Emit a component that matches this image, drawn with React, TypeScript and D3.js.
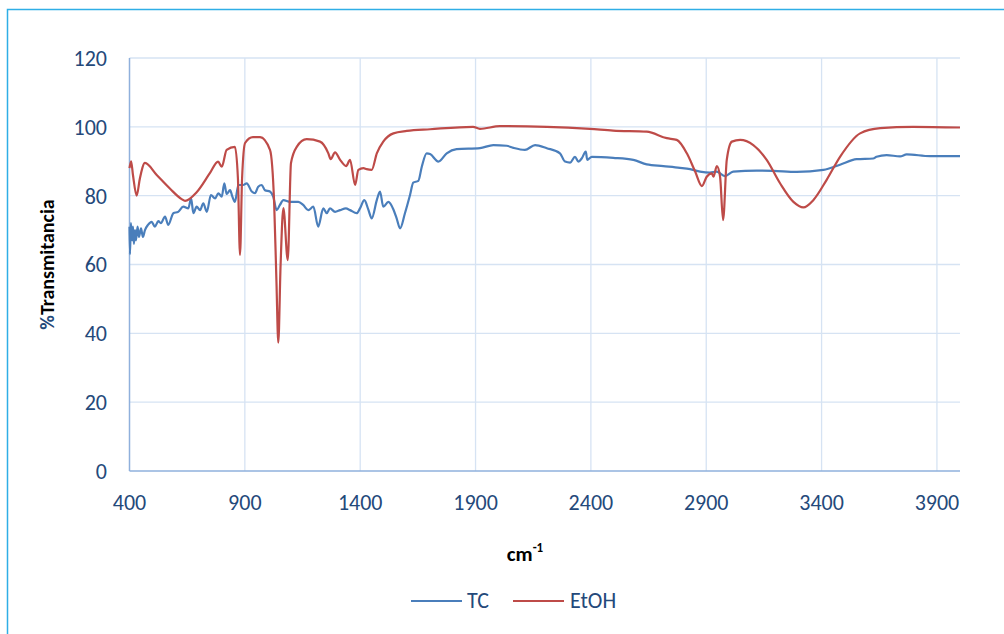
import * as d3 from 'd3';

// wavenumber (cm-1) and %T
const tcWave = [
	400, 402, 406, 411, 415, 419, 424, 428, 435, 441, 450, 458, 467, 480, 496, 510, 525, 536, 554, 568,
	590, 611, 633, 655, 667, 677, 691, 706, 720, 735, 753, 771, 785, 800, 811, 821, 836, 846, 857, 872,
	893, 908, 930, 944, 958, 973, 987, 1009, 1023, 1038, 1052, 1067, 1096, 1132, 1153, 1175, 1197, 1218,
	1240, 1255, 1269, 1291, 1313, 1338, 1356, 1385, 1399, 1418, 1435, 1450, 1472, 1486, 1500, 1522, 1544,
	1558, 1573, 1594, 1616, 1630, 1652, 1667, 1688, 1703, 1739, 1775, 1818, 1919, 1977, 2035, 2064, 2114,
	2158, 2209, 2266, 2288, 2310, 2331, 2346, 2360, 2378, 2384, 2404, 2497, 2584, 2642, 2714, 2786, 2830,
	2873, 2916, 2945, 2981, 3017, 3119, 3191, 3292, 3408, 3480, 3552, 3624, 3638, 3682, 3740, 3769, 3870,
	4000,
];
const tcValue = [
	71, 63, 72, 67, 71, 66, 70, 67, 71, 68, 70.5, 68, 70, 71.5, 72.4, 71, 72.6, 72, 73.9, 71.5,
	74.9, 75.3, 76.8, 76.3, 79.2, 74.9, 76.8, 75.8, 77.8, 75.3, 80.2, 79.2, 80.7, 79.7, 83.6, 80.5, 81.6, 79.7, 78.2, 83.1,
	83.1, 83.6, 81.2, 80.7, 82.6, 83.1, 81.6, 81.2, 79.7, 75.8, 77.3, 78.7, 78.2, 78.2, 77.3, 75.8, 76.8, 71,
	76.3, 74.9, 76.3, 75.3, 75.8, 76.3, 75.8, 74.9, 76.3, 78.7, 76, 73.4, 78.7, 81.2, 76.8, 78.2, 76,
	73.4, 70.5, 74.9, 80.2, 83.8, 84.3, 88.4, 92.3, 92.1, 89.9, 92.3, 93.5, 93.8, 94.7, 94.5, 93.9, 93.3,
	94.7, 93.8, 92.3, 89.9, 89.6, 91.3, 89.9, 90.8, 92.8, 90.4, 91.3, 91, 90.4, 89.1, 88.6, 88.1, 87.7,
	87, 86.7, 87, 85.7, 87, 87.3, 87.2, 86.9, 87.5, 89, 90.6, 90.8, 91.3, 91.8, 91.4, 92, 91.5,
	91.5,
];

const etohWave = [
	400, 407, 415, 431, 445, 467, 518, 576, 626, 641, 691, 749, 784, 800, 821, 857, 870, 879, 888, 901,
	935, 966, 1009, 1027, 1037, 1045, 1055, 1067, 1086, 1100, 1125, 1168, 1226, 1262, 1272, 1291, 1313,
	1339, 1356, 1378, 1392, 1414, 1428, 1450, 1472, 1500, 1544, 1602, 1703, 1889, 1919, 2006, 2209, 2396,
	2496, 2642, 2729, 2772, 2816, 2852, 2881, 2902, 2924, 2931, 2946, 2960, 2973, 2989, 3011, 3047, 3104,
	3162, 3220, 3278, 3321, 3364, 3422, 3480, 3567, 3654, 3797, 4000,
];
const etohValue = [
	88, 90, 86, 80, 85, 89.5, 86, 82, 79, 78.5, 81, 86.6, 89.9, 88.4, 93.3, 94.2, 85, 62.8, 85, 95.3,
	97, 97, 93.3, 77.9, 55, 37.3, 60, 76.4, 61.3, 89.5, 94.2, 96.4, 95.7, 92.3, 90.6, 92.6, 90.4,
	88.6, 90.4, 83.1, 87.5, 88, 87.7, 87.5, 92.3, 95.7, 98.1, 98.8, 99.3, 100, 99.4, 100.2, 100, 99.4,
	98.9, 98.6, 96.7, 96.2, 92.3, 87, 82.8, 85.5, 86.5, 85.5, 88.6, 85.5, 72.9, 90.4, 95.7, 96.2, 94.7,
	90.4, 83.6, 78.2, 76.6, 78.7, 84.6, 91.3, 98.1, 99.6, 100, 99.8,
];

const xTicks = [400, 900, 1400, 1900, 2400, 2900, 3400, 3900];
const yTicks = [0, 20, 40, 60, 80, 100, 120];

const series = [
	{ name: 'TC', color: '#4A7EBB', wave: tcWave, value: tcValue },
	{ name: 'EtOH', color: '#BE4B48', wave: etohWave, value: etohValue },
];

const W = 1004;
const H = 634;
const plot = { left: 129.5, right: 960, top: 58, bottom: 471 };
const font = "Carlito, Calibri, Lato, 'Open Sans', sans-serif";
const tickColor = '#24497A';

export default function App() {
	const x = d3.scaleLinear().domain([400, 4000]).range([plot.left, plot.right]);
	const y = d3.scaleLinear().domain([0, 120]).range([plot.bottom, plot.top]);

	const line = d3
		.line<[number, number]>()
		.x((d) => x(d[0]))
		.y((d) => y(d[1]))
		.curve(d3.curveMonotoneX);

	return (
		<svg
			width={W}
			height={H}
			style={{ position: 'absolute', left: 0, top: 0, fontFamily: font }}
		>
			<rect x={0} y={0} width={W} height={H} fill="#fff" />
			<rect x={7.5} y={9.5} width={W + 20} height={H + 20} fill="none" stroke="#2FAEE6" strokeWidth={1.5} />

			{/* gridlines */}
			{yTicks.slice(1).map((t) => (
				<line key={'gy' + t} x1={plot.left} x2={plot.right} y1={y(t)} y2={y(t)} stroke="#D6E3F3" strokeWidth={1.3} />
			))}
			{xTicks.slice(1).map((t) => (
				<line key={'gx' + t} x1={x(t)} x2={x(t)} y1={plot.top} y2={plot.bottom} stroke="#D6E3F3" strokeWidth={1.3} />
			))}

			{/* axes */}
			<line x1={plot.left} x2={plot.left} y1={plot.top} y2={plot.bottom} stroke="#8FB0DC" strokeWidth={1.5} />
			<line x1={plot.left} x2={plot.right} y1={plot.bottom} y2={plot.bottom} stroke="#8FB0DC" strokeWidth={1.5} />

			{yTicks.map((t) => (
				<text key={'ty' + t} x={107} y={y(t)} dy="0.36em" textAnchor="end" fontSize={22} fill={tickColor}>
					{t}
				</text>
			))}
			{xTicks.map((t) => (
				<text key={'tx' + t} x={x(t)} y={510} textAnchor="middle" fontSize={22} fill={tickColor}>
					{t}
				</text>
			))}

			{/* series */}
			{series.map((s) => (
				<path
					key={s.name}
					d={line(s.wave.map((w, i) => [w, s.value[i]] as [number, number])) || ''}
					fill="none"
					stroke={s.color}
					strokeWidth={2.2}
					strokeLinejoin="round"
				/>
			))}

			{/* axis titles */}
			<text
				transform={`translate(54,${(plot.top + plot.bottom) / 2}) rotate(-90)`}
				textAnchor="middle"
				fontSize={20}
				fontWeight="bold"
				fill="#000"
			>
				<tspan fill={tickColor}>%</tspan>Transmitancia
			</text>
			<text x={525} y={561} textAnchor="middle" fontSize={21} fontWeight="bold" fill="#000">
				cm<tspan fontSize={13} dy={-9}>-1</tspan>
			</text>

			{/* legend */}
			<line x1={411} x2={462} y1={601} y2={601} stroke="#4A7EBB" strokeWidth={2.2} />
			<text x={467} y={608} fontSize={22} fill={tickColor}>TC</text>
			<line x1={513} x2={564} y1={601} y2={601} stroke="#BE4B48" strokeWidth={2.2} />
			<text x={570} y={608} fontSize={22} fill={tickColor}>EtOH</text>
		</svg>
	);
}
